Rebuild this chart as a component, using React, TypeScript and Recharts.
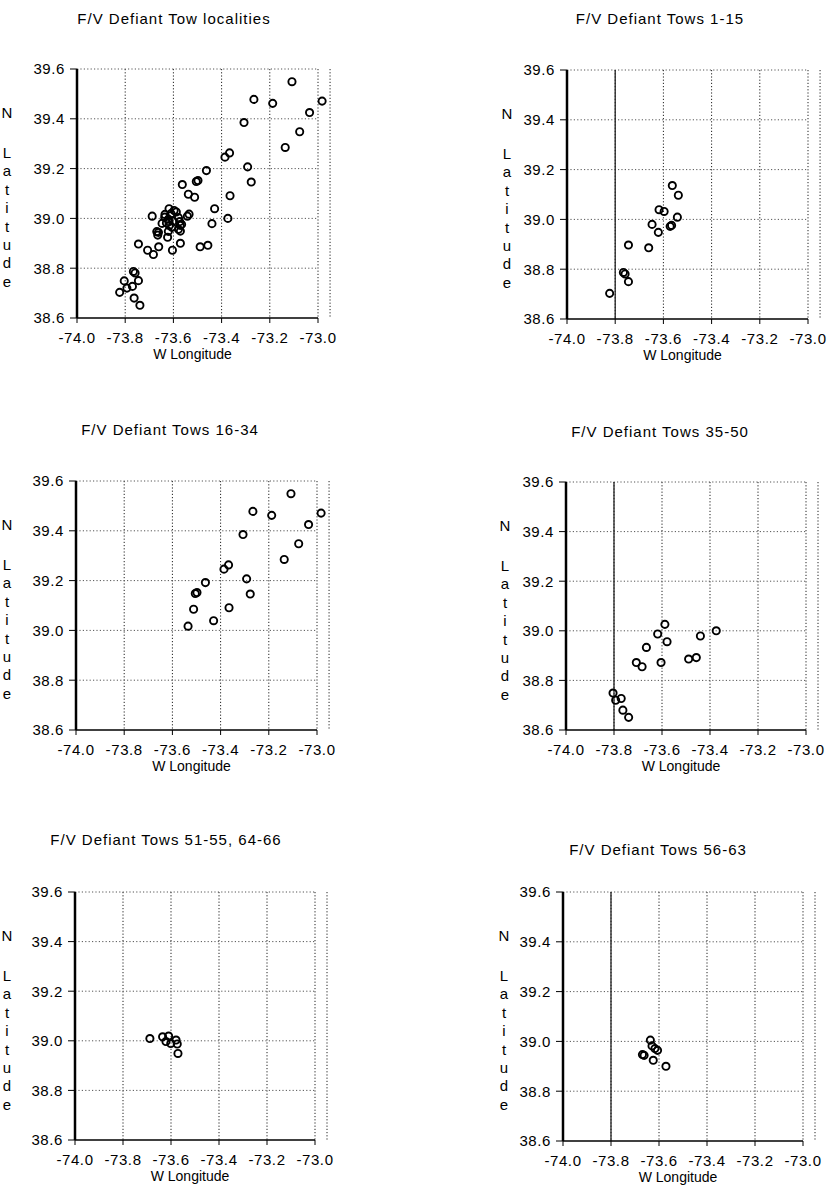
import React from 'react';
import { ScatterChart, Scatter, XAxis, YAxis, CartesianGrid, ReferenceLine } from 'recharts';

const LON_TICKS = [-74.0, -73.8, -73.6, -73.4, -73.2, -73.0];
const LAT_TICKS = [38.6, 38.8, 39.0, 39.2, 39.4, 39.6];

const TOWS_1_15_LON = [-73.563, -73.538, -73.618, -73.597, -73.542, -73.566, -73.572, -73.647, -73.621, -73.661, -73.745, -73.766, -73.759, -73.745, -73.823];
const TOWS_1_15_LAT = [39.136, 39.097, 39.039, 39.032, 39.009, 38.976, 38.972, 38.980, 38.948, 38.886, 38.897, 38.787, 38.781, 38.750, 38.703];

const TOWS_16_34_LON = [-73.108, -73.266, -73.188, -72.983, -73.035, -73.307, -73.076, -73.136, -73.386, -73.367, -73.292, -73.277, -73.463, -73.505, -73.498, -73.512, -73.365, -73.429, -73.535];
const TOWS_16_34_LAT = [39.549, 39.478, 39.462, 39.471, 39.425, 39.385, 39.348, 39.285, 39.246, 39.263, 39.207, 39.146, 39.192, 39.148, 39.152, 39.085, 39.091, 39.039, 39.017];

const TOWS_35_50_LON = [-73.588, -73.618, -73.579, -73.665, -73.707, -73.683, -73.604, -73.489, -73.457, -73.440, -73.374, -73.804, -73.793, -73.770, -73.763, -73.739];
const TOWS_35_50_LAT = [39.026, 38.987, 38.956, 38.933, 38.872, 38.855, 38.872, 38.886, 38.892, 38.979, 39.000, 38.749, 38.720, 38.727, 38.680, 38.651];

const TOWS_51_55_64_66_LON = [-73.688, -73.635, -73.610, -73.621, -73.601, -73.579, -73.574, -73.571];
const TOWS_51_55_64_66_LAT = [39.009, 39.016, 39.019, 38.997, 38.989, 39.003, 38.987, 38.949];

const TOWS_56_63_LON = [-73.636, -73.629, -73.606, -73.617, -73.669, -73.662, -73.624, -73.571];
const TOWS_56_63_LAT = [39.005, 38.982, 38.964, 38.971, 38.947, 38.944, 38.924, 38.900];

const ALL_LON = [...TOWS_1_15_LON, ...TOWS_16_34_LON, ...TOWS_35_50_LON, ...TOWS_51_55_64_66_LON, ...TOWS_56_63_LON];
const ALL_LAT = [...TOWS_1_15_LAT, ...TOWS_16_34_LAT, ...TOWS_35_50_LAT, ...TOWS_51_55_64_66_LAT, ...TOWS_56_63_LAT];

const TITLES = [
  'F/V Defiant Tow localities',
  'F/V Defiant Tows 1-15',
  'F/V Defiant Tows 16-34',
  'F/V Defiant Tows 35-50',
  'F/V Defiant Tows 51-55, 64-66',
  'F/V Defiant Tows 56-63',
];
const X_LABEL = 'W Longitude';
const Y_LETTERS = ['L', 'a', 't', 'i', 't', 'u', 'd', 'e'];

const FONT = '"Liberation Sans", Arial, Helvetica, sans-serif';
const CHART_W = 418;
const CHART_H = 410;
const X_AXIS_H = 40;
const LON_MIN = -74;
const LON_MAX = -73;
const LON_PAD = 0.05;

const Circle = (props: any) => {
  const { cx, cy } = props;
  if (cx == null || cy == null) return null;
  return <circle cx={cx} cy={cy} r={3.6} fill="none" stroke="#000" strokeWidth={1.9} />;
};

type PanelProps = {
  title: string;
  lon: number[];
  lat: number[];
  chartX: number;
  chartY: number;
  plotX: number;
  plotY: number;
  plotW: number;
  plotH: number;
  letterX: number;
  titleX: number;
  titleY: number;
  solidLine: boolean;
};

function Panel(p: PanelProps) {
  const scaleW = (p.plotW * (LON_MAX + LON_PAD - LON_MIN)) / (LON_MAX - LON_MIN);
  const yW = p.plotX - p.chartX;
  const mTop = p.plotY - p.chartY;
  const mRight = CHART_W - yW - scaleW;
  const mBottom = CHART_H - mTop - p.plotH - X_AXIS_H;
  const data = p.lon.map((x, i) => ({ lon: x, lat: p.lat[i] }));
  const txt: React.CSSProperties = {
    position: 'absolute',
    fontFamily: FONT,
    color: '#000',
    whiteSpace: 'nowrap',
    transform: 'translate(-50%, -50%)',
    lineHeight: 1,
  };
  return (
    <>
      <div style={{ position: 'absolute', left: p.chartX, top: p.chartY }}>
        <ScatterChart
          width={CHART_W}
          height={CHART_H}
          margin={{ top: mTop, right: mRight, bottom: mBottom, left: 0 }}
        >
          <CartesianGrid horizontal={false} vertical stroke="#222" strokeDasharray="1.2 2" />
          {LAT_TICKS.filter((t) => t > 38.6).map((t) => (
            <ReferenceLine
              key={t}
              segment={[{ x: LON_MIN, y: t }, { x: LON_MAX, y: t }]}
              stroke="#555"
              strokeDasharray="1.2 2.2"
            />
          ))}
          {p.solidLine && <ReferenceLine x={-73.8} stroke="#222" strokeWidth={1.3} />}
          <ReferenceLine
            segment={[{ x: LON_MIN, y: 38.6 }, { x: LON_MAX, y: 38.6 }]}
            stroke="#000"
            strokeWidth={1.6}
          />
          <XAxis
            type="number"
            dataKey="lon"
            domain={[LON_MIN, LON_MAX + LON_PAD]}
            allowDataOverflow
            ticks={LON_TICKS}
            interval={0}
            tickFormatter={(v: number) => v.toFixed(1)}
            axisLine={false}
            tickLine={{ stroke: '#000' }}
            tickSize={5}
            tickMargin={9}
            height={X_AXIS_H}
            tick={{ fill: '#000', fontSize: 15, fontFamily: FONT, letterSpacing: 0.6 }}
          />
          <YAxis
            type="number"
            dataKey="lat"
            domain={[38.6, 39.6]}
            allowDataOverflow
            ticks={LAT_TICKS}
            interval={0}
            tickFormatter={(v: number) => v.toFixed(1)}
            width={yW}
            axisLine={{ stroke: '#000', strokeWidth: 2.5 }}
            tickLine={{ stroke: '#000' }}
            tickSize={7}
            tickMargin={5}
            tick={{ fill: '#000', fontSize: 15, fontFamily: FONT, letterSpacing: 0.6 }}
          />
          <Scatter data={data} isAnimationActive={false} shape={(s: any) => <Circle {...s} />} />
        </ScatterChart>
      </div>
      <div style={{ ...txt, left: p.titleX, top: p.titleY, fontSize: 15, letterSpacing: 1 }}>{p.title}</div>
      <div style={{ ...txt, left: p.plotX + p.plotW / 2 - 5, top: p.plotY + p.plotH + 36, fontSize: 14 }}>
        {X_LABEL}
      </div>
      <div style={{ ...txt, left: p.letterX, top: p.plotY + 43, fontSize: 15 }}>N</div>
      {Y_LETTERS.map((ch, i) => (
        <div key={i} style={{ ...txt, left: p.letterX, top: p.plotY + 83 + i * 18.4, fontSize: 15 }}>
          {ch}
        </div>
      ))}
    </>
  );
}

export default function App() {
  return (
    <div style={{ position: 'absolute', left: 0, top: 0, width: 836, height: 1190, background: '#fff', overflow: 'hidden' }}>
      <Panel title={TITLES[0]} lon={ALL_LON} lat={ALL_LAT} chartX={0} chartY={0} plotX={77} plotY={69} plotW={241} plotH={249} letterX={7} titleX={174} titleY={18} solidLine={false} />
      <Panel title={TITLES[1]} lon={TOWS_1_15_LON} lat={TOWS_1_15_LAT} chartX={418} chartY={0} plotX={567} plotY={70} plotW={241} plotH={249} letterX={507} titleX={660} titleY={18} solidLine />
      <Panel title={TITLES[2]} lon={TOWS_16_34_LON} lat={TOWS_16_34_LAT} chartX={0} chartY={410} plotX={76} plotY={481} plotW={241} plotH={249} letterX={7} titleX={170} titleY={429} solidLine={false} />
      <Panel title={TITLES[3]} lon={TOWS_35_50_LON} lat={TOWS_35_50_LAT} chartX={418} chartY={410} plotX={566} plotY={482} plotW={240} plotH={248} letterX={505} titleX={660} titleY={431} solidLine />
      <Panel title={TITLES[4]} lon={TOWS_51_55_64_66_LON} lat={TOWS_51_55_64_66_LAT} chartX={0} chartY={780} plotX={75} plotY={892} plotW={240} plotH={248} letterX={7} titleX={166} titleY={839} solidLine={false} />
      <Panel title={TITLES[5]} lon={TOWS_56_63_LON} lat={TOWS_56_63_LAT} chartX={418} chartY={780} plotX={563} plotY={892} plotW={240} plotH={249} letterX={504} titleX={658} titleY={849} solidLine />
    </div>
  );
}
